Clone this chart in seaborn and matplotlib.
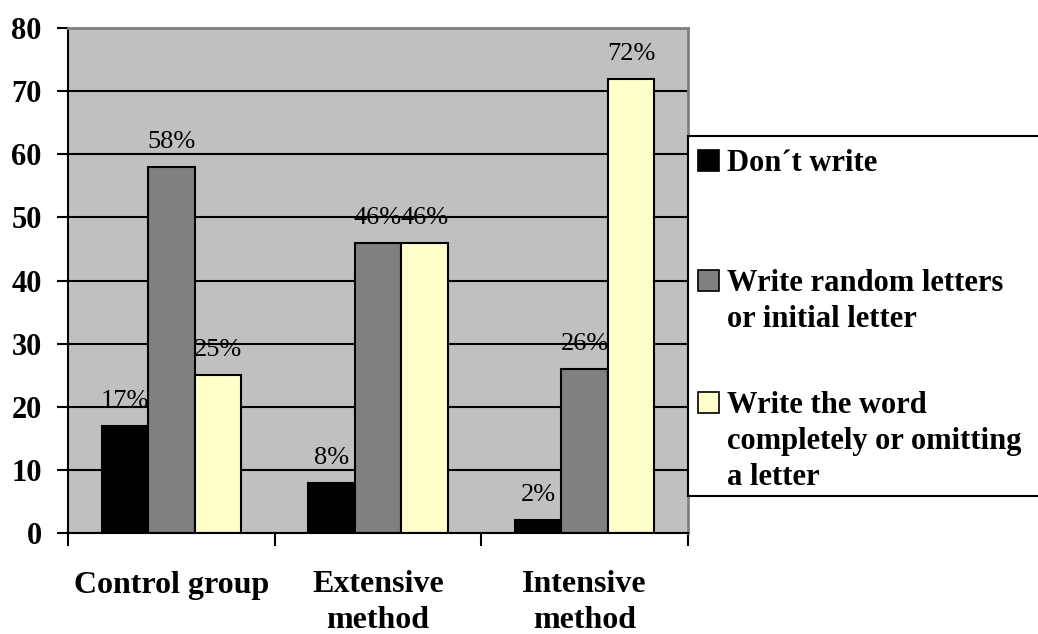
import matplotlib.pyplot as plt
import matplotlib.patches as mpatches
import pandas as pd
import seaborn as sns

# data
groups = ["Control group", "Extensive\nmethod", "Intensive\nmethod"]
responses = ["Don´t write",
             "Write random letters\nor initial letter",
             "Write the word\ncompletely or omitting\na letter"]
dont_write = [17, 8, 2]
random_letters = [58, 46, 26]
whole_word = [25, 46, 72]
colors = ["#000000", "#808080", "#ffffcc"]

df = pd.DataFrame({
    "group": groups * 3,
    "response": [r for r in responses for _ in groups],
    "value": dont_write + random_letters + whole_word,
})

sns.set_style("white")
plt.rcParams["font.family"] = ["Liberation Serif", "DejaVu Serif"]
plt.rcParams["text.color"] = "black"
plt.rcParams["xtick.color"] = "black"
plt.rcParams["ytick.color"] = "black"

W, H = 1038, 634
fig = plt.figure(figsize=(W / 100, H / 100), dpi=100)
ax = fig.add_axes([68 / W, (H - 533) / H, 620 / W, 505 / H])
ax.set_facecolor("#c0c0c0")

sns.barplot(data=df, x="group", y="value", hue="response", palette=colors,
            saturation=1, width=0.675, edgecolor="black", linewidth=1.5,
            ax=ax, legend=False)

for cont, vals in zip(ax.containers, [dont_write, random_letters, whole_word]):
    ax.bar_label(cont, labels=[f"{v}%" for v in vals], padding=10, fontsize=19,
                 color="black")

ax.set_ylim(0, 80)
ax.set_xlim(-0.5, 2.5)
ax.set_yticks(range(0, 81, 10))
ax.set_yticklabels([str(v) for v in range(0, 81, 10)], fontsize=22, fontweight="bold")
ax.tick_params(axis="y", direction="out", length=8, width=1.5, pad=11, left=True,
               colors="black")
ax.set_xticks([-0.5, 0.5, 1.5, 2.5], labels=["", "", "", ""])
ax.set_xticks([0, 1, 2], labels=groups, minor=True)
ax.tick_params(axis="x", which="major", direction="out", length=9, width=1.5,
               bottom=True, colors="black")
ax.tick_params(axis="x", which="minor", length=0, pad=27, labelsize=23,
               labelcolor="black")
for lab in ax.get_xticklabels(minor=True):
    lab.set_fontweight("bold")
    lab.set_multialignment("center")
    lab.set_linespacing(1.3)

ax.yaxis.grid(True, color="black", linewidth=1.5)
ax.set_axisbelow(True)
ax.set_xlabel("")
ax.set_ylabel("")
for side in ["left", "bottom"]:
    ax.spines[side].set_color("black")
    ax.spines[side].set_linewidth(1.5)
for side in ["top", "right"]:
    ax.spines[side].set_color("#808080")
    ax.spines[side].set_linewidth(2)

# legend box drawn by hand so the handles sit on the first text line
def fx(px):
    return px / W

def fy(py):
    return (H - py) / H

frame = mpatches.Rectangle((fx(688), fy(496)), fx(1045) - fx(688), fy(136) - fy(496),
                           transform=fig.transFigure, facecolor="white",
                           edgecolor="black", linewidth=1.5)
fig.add_artist(frame)
tops = [150, 270, 392]
for top, lab, col in zip(tops, responses, colors):
    sq = mpatches.Rectangle((fx(698), fy(top + 21)), fx(719) - fx(698), fy(top) - fy(top + 21),
                            transform=fig.transFigure, facecolor=col,
                            edgecolor="black", linewidth=1.2)
    fig.add_artist(sq)
    fig.text(fx(727), fy(top - 1), lab, fontsize=22, fontweight="bold",
             va="top", ha="left", linespacing=1.32, color="black")

fig.savefig("out.png", dpi=100)
